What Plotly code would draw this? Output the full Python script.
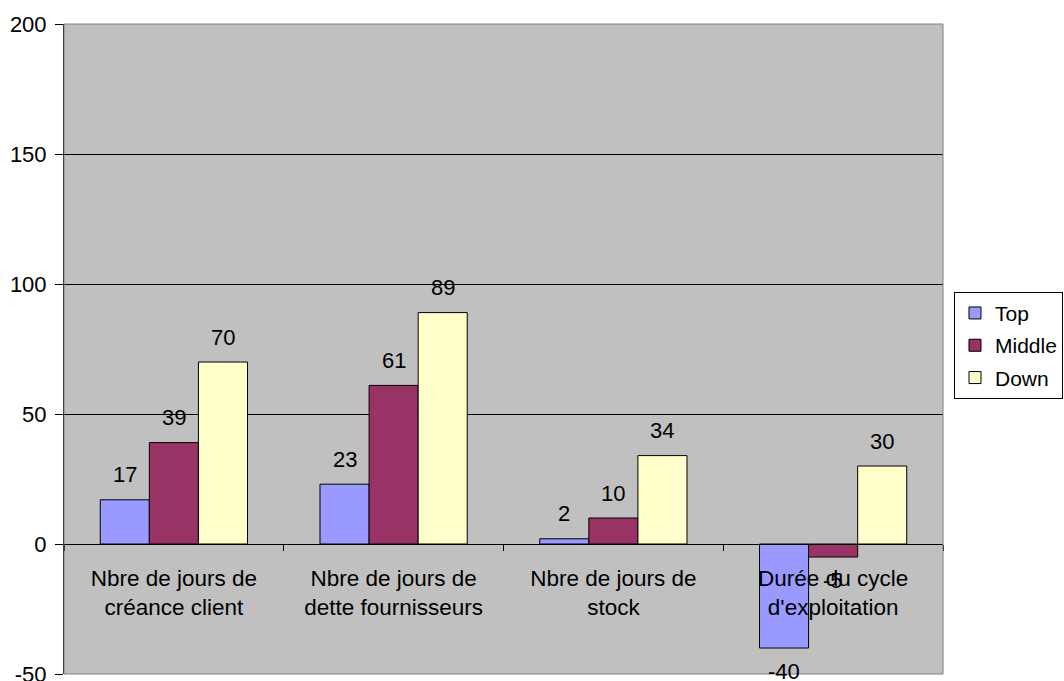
import plotly.graph_objects as go

categories = [
    "Nbre de jours de<br>créance client",
    "Nbre de jours de<br>dette fournisseurs",
    "Nbre de jours de<br>stock",
    "Durée du cycle<br>d'exploitation",
]
top_values = [17, 23, 2, -40]
middle_values = [39, 61, 10, -5]
down_values = [70, 89, 34, 30]

y_tick_values = [-50, 0, 50, 100, 150, 200]
y_tick_labels = ["-50", "0", "50", "100", "150", "200"]

series = [
    ("Top", top_values, "#9999FF"),
    ("Middle", middle_values, "#993366"),
    ("Down", down_values, "#FFFFCC"),
]

FONT = "Liberation Sans, Arial, sans-serif"

fig = go.Figure()
for name, vals, color in series:
    fig.add_trace(go.Bar(
        name=name, x=categories, y=vals, legendgroup=name,
        marker=dict(color=color, line=dict(color="black", width=1)),
    ))

# value labels: above positive bars, below negative bars
annotations = []
for i, (name, vals, color) in enumerate(series):
    for j, v in enumerate(vals):
        annotations.append(dict(
            x=j, y=v, xref="x", yref="y", text=str(v), showarrow=False,
            xshift=(i - 1) * 49, yshift=25 if v >= 0 else -23,
            yanchor="middle", font=dict(size=22, color="black", family=FONT),
        ))

fig.update_layout(
    width=1064, height=681,
    margin=dict(l=64, r=121, t=24, b=7, autoexpand=False),
    paper_bgcolor="white", plot_bgcolor="#C0C0C0",
    barmode="group", bargap=0.33, bargroupgap=0,
    font=dict(family=FONT, size=22, color="black"),
    annotations=annotations,
    legend=dict(
        x=1.0125, y=0.588, xanchor="left", yanchor="top",
        bordercolor="black", borderwidth=1, bgcolor="white",
        font=dict(size=21, family=FONT), itemwidth=30,
        traceorder="grouped", tracegroupgap=2,
    ),
    shapes=[dict(type="rect", xref="paper", yref="paper", x0=0, x1=1, y0=0, y1=1,
                 line=dict(color="#808080", width=1), fillcolor="rgba(0,0,0,0)", layer="above")],
)

fig.update_yaxes(
    range=[-50, 200], tickmode="array", tickvals=y_tick_values, ticktext=y_tick_labels,
    showline=True, linecolor="black", linewidth=1,
    ticks="outside", ticklen=8, tickcolor="black", ticklabelstandoff=4,
    ticklabeloverflow="allow",
    showgrid=True, gridcolor="black", gridwidth=1,
    zeroline=True, zerolinecolor="black", zerolinewidth=1,
    tickfont=dict(size=22, family=FONT), fixedrange=True, automargin=False,
)
fig.update_xaxes(
    anchor="free", position=0.2,
    showline=True, linecolor="black", linewidth=1,
    ticks="outside", ticklen=6, tickcolor="black", tickson="boundaries",
    showgrid=False, ticklabelstandoff=14,
    tickfont=dict(size=22.5, family=FONT), fixedrange=True, automargin=False,
)

fig.write_html("out.html")
